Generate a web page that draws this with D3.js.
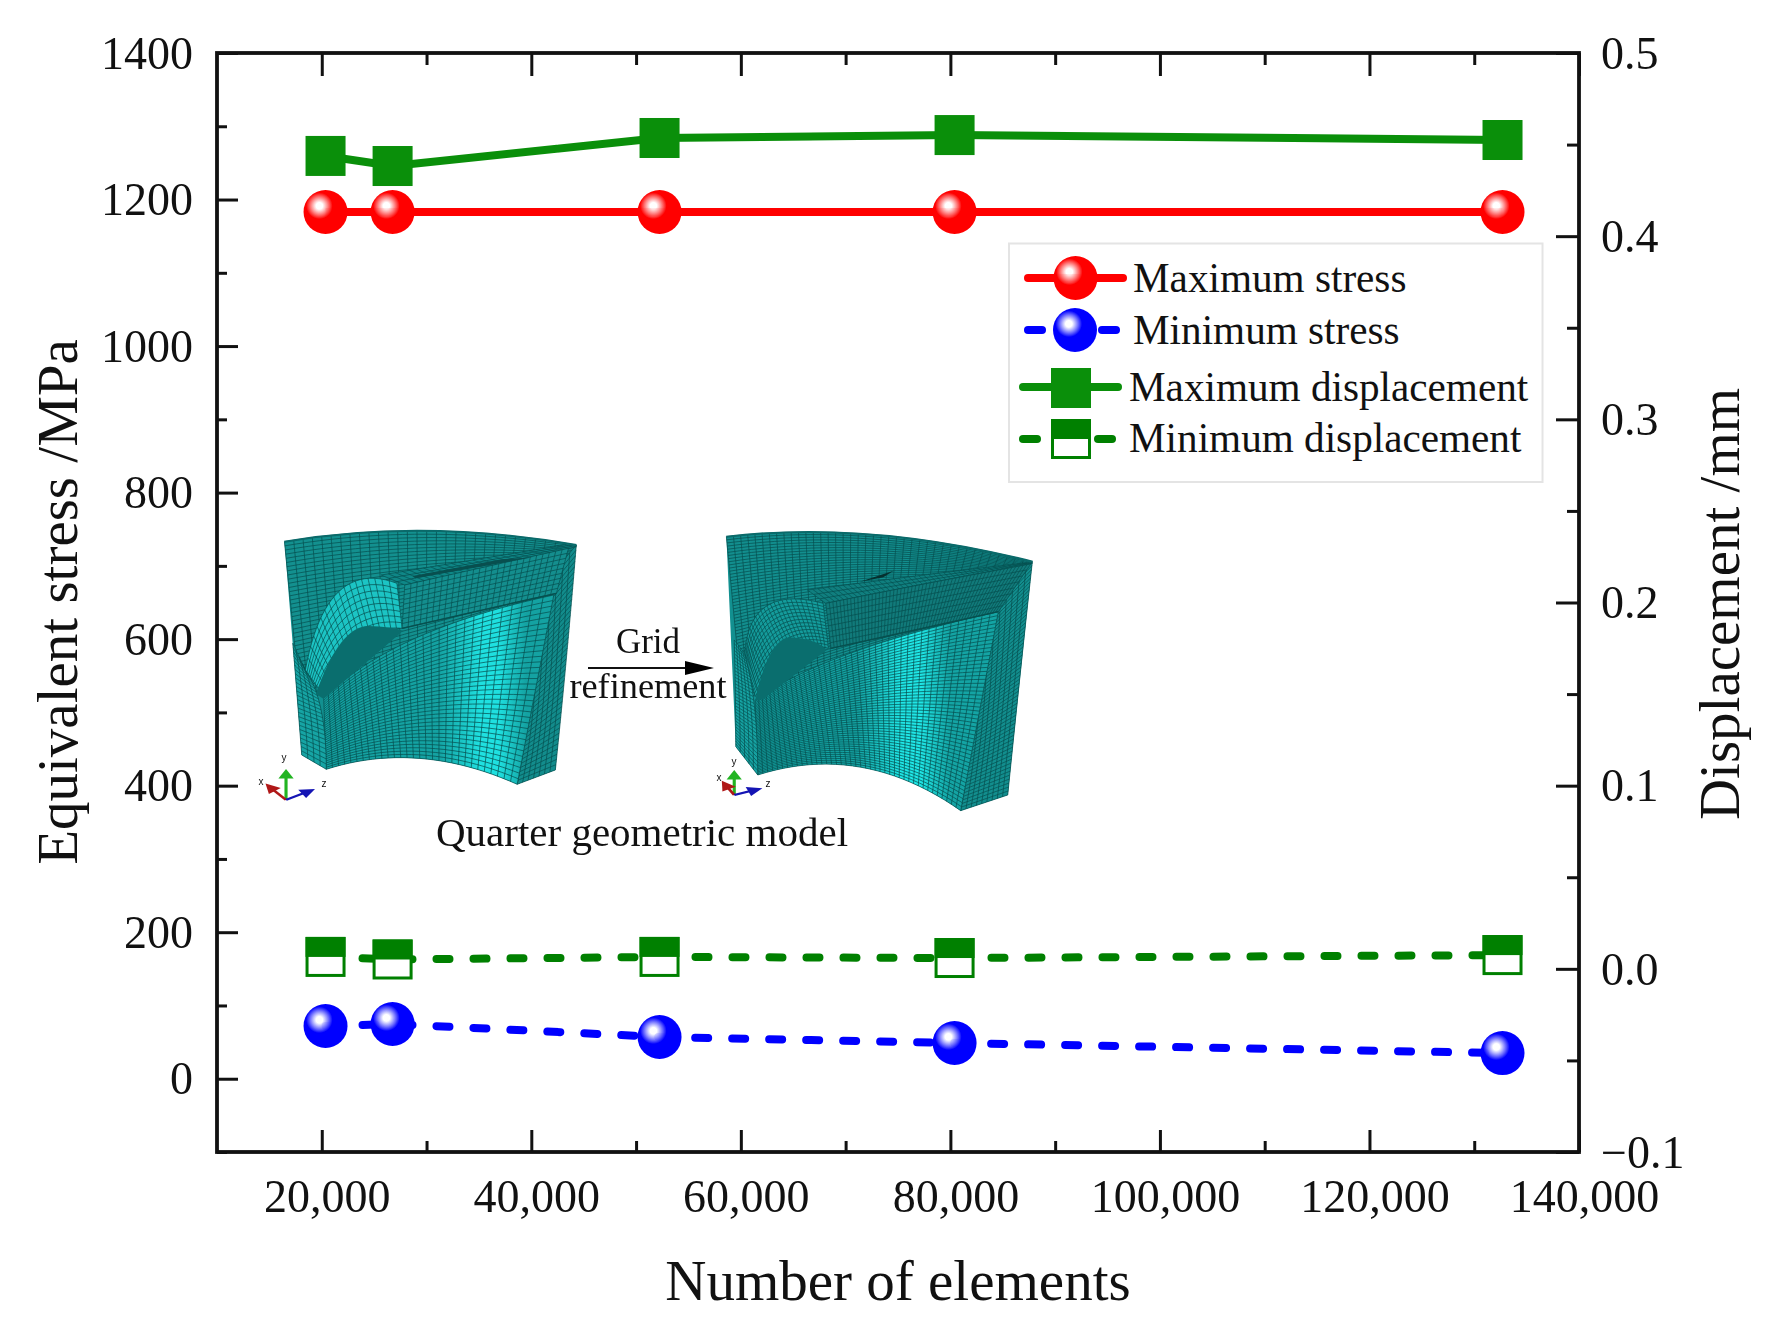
<!DOCTYPE html>
<html><head><meta charset="utf-8">
<script src="https://cdnjs.cloudflare.com/ajax/libs/d3/7.8.5/d3.min.js"></script>
<style>
html,body{margin:0;padding:0;background:#fff}
svg{display:block;filter:blur(0.6px)}
text{font-family:"Liberation Serif","Times New Roman",serif;fill:#111}
</style></head><body>
<svg id="c" width="1771" height="1331"></svg>
<script>
// ---- chart data ----
const elements = [20360, 26760, 52240, 80400, 132700];
const maxStress = [1183, 1183, 1183, 1183, 1183];
const minStress = [72, 74.7, 57, 48.8, 35];
const maxDisplacement = [0.4438, 0.4383, 0.4536, 0.4552, 0.4525];
const minDisplacement = [0.0065, 0.0051, 0.0065, 0.0059, 0.0075];
const xMajorTicks = [20000, 40000, 60000, 80000, 100000, 120000, 140000];
const xMinorTicks = [30000, 50000, 70000, 90000, 110000, 130000];
const leftMajorTicks = [0, 200, 400, 600, 800, 1000, 1200, 1400];
const leftMinorTicks = [-100, 100, 300, 500, 700, 900, 1100, 1300];
const rightMajorTicks = [-0.1, 0, 0.1, 0.2, 0.3, 0.4, 0.5];
const rightMinorTicks = [-0.05, 0.05, 0.15, 0.25, 0.35, 0.45];
const legendLabels = ["Maximum stress", "Minimum stress", "Maximum displacement", "Minimum displacement"];

// ---- layout ----
const L = 217, R = 1579, T = 53, B = 1152;
const svg = d3.select("#c");
const x = d3.scaleLinear().domain([10000, 140000]).range([L, R]);
const yL = d3.scaleLinear().domain([-100, 1400]).range([B, T]);
const yR = d3.scaleLinear().domain([-0.1, 0.5]).range([B, T]);
const RED = "#ff0000", BLUE = "#0000ff", GREEN = "#008000", GREEN2 = "#0a8f0a";
const DASH = "13 24", LW = 8, RAD = 22, SQ = 40;

// ---- gradients ----
const defs = svg.append("defs");
function sphere(id, col) {
  const g = defs.append("radialGradient").attr("id", id).attr("cx", .36).attr("cy", .36).attr("r", .3);
  g.append("stop").attr("offset", "0%").attr("stop-color", "#fff");
  g.append("stop").attr("offset", "25%").attr("stop-color", "#fff").attr("stop-opacity", .9);
  g.append("stop").attr("offset", "100%").attr("stop-color", col);
}
sphere("sRed", RED); sphere("sBlue", BLUE);
function band(id, a, b, at) {
  const g = defs.append("linearGradient").attr("id", id);
  [[0, a], [at - .18, a], [at, b], [at + .08, b], [at + .2, a], [1, a]].forEach(s =>
    g.append("stop").attr("offset", s[0]).attr("stop-color", s[1]));
}
band("bandL", "#14a2a2", "#1fe0e0", .68);
band("bandR", "#14a4a4", "#1fe6e6", .6);

// ---- inset: the two meshed quarter models (illustration, not data) ----
const quad = (q, t) => [0, 1].map(i => (1 - t) * (1 - t) * q[0][i] + 2 * t * (1 - t) * q[1][i] + t * t * q[2][i]);
const lineGen = d3.line();
function loft(g, A, B, nu, nv, fill, meshCol) {
  const P = (u, v) => { const a = quad(A, v), b = quad(B, v); return [(1 - u) * a[0] + u * b[0], (1 - u) * a[1] + u * b[1]]; };
  const S = d3.range(0, 1.0001, 1 / 24);
  const outline = S.map(v => P(0, v)).concat(S.slice().reverse().map(v => P(1, v)));
  g.append("path").attr("d", lineGen(outline) + "Z").attr("fill", fill);
  const mesh = g.append("g").attr("fill", "none").attr("stroke", meshCol || "#064f4f")
    .attr("stroke-opacity", .72).attr("stroke-width", 1);
  d3.range(0, nu + 1).forEach(i => mesh.append("path").attr("d", lineGen(S.map(v => P(i / nu, v)))).style("vector-effect", "non-scaling-stroke"));
  d3.range(0, nv + 1).forEach(j => mesh.append("path").attr("d", lineGen(S.map(u => P(u, j / nv)))).style("vector-effect", "non-scaling-stroke"));
}
function triad(g, o, up, rd, bl, lab) {
  [[up, "#22b422"], [rd, "#b01818"], [bl, "#1414b4"]].forEach(([p, c]) => {
    g.append("line").attr("x1", o[0]).attr("y1", o[1]).attr("x2", p[0]).attr("y2", p[1])
      .attr("stroke", c).attr("stroke-width", 6);
    const a = Math.atan2(p[1] - o[1], p[0] - o[0]), s = 18;
    const pt = (r, t) => [p[0] + r * Math.cos(a + t), p[1] + r * Math.sin(a + t)];
    g.append("path").attr("fill", c).attr("d", lineGen([pt(s, 0), pt(s, 2.2), pt(s, -2.2)]) + "Z");
  });
  lab.forEach(([t, p]) => svg.append("text").attr("x", p[0]).attr("y", p[1]).attr("font-size", 10)
    .attr("text-anchor", "middle").style("font-family", "Liberation Sans").text(t));
}
const m1 = svg.append("g").attr("transform", "translate(240,500) scale(0.523,0.3333)");
m1.append("path").attr("d", "M85,125Q350,55 643,135L603,810L530,853Q340,720 165,808L118,765Z").attr("fill", "#129090");
loft(m1, [[85,125],[350,55],[643,135]], [[115,600],[350,500],[610,300]], 38, 30, "#13908f");
loft(m1, [[555,300],[565,590],[530,853]], [[643,135],[625,480],[603,810]], 7, 42, "#128c8c");
loft(m1, [[160,595],[290,390],[600,285]], [[165,808],[340,720],[530,853]], 34, 30, "url(#bandL)");
loft(m1, [[101,430],[110,600],[118,765]], [[125,510],[165,600],[165,808]], 4, 26, "#16a4a4");
loft(m1, [[125,510],[165,170],[300,250]], [[150,565],[210,370],[310,385]], 8, 18, "#1cc4c4");
m1.append("path").attr("d", "M145,582Q190,380 245,378Q290,380 312,392L160,597Z").attr("fill", "#0a6e6e");
loft(m1, [[270,225],[445,180],[620,135]], [[315,255],[480,200],[643,140]], 3, 26, "#0f8787");
loft(m1, [[315,255],[470,200],[628,145]], [[310,385],[460,330],[605,280]], 9, 26, "#148e8e");
m1.append("path").attr("d", "M335,235L560,172L500,178L330,228Z").attr("fill", "#084f4f");
m1.append("path").attr("d", "M85,125Q350,55 643,135").attr("fill", "none").attr("stroke", "#0a6a6a").attr("stroke-width", 6);
m1.append("path").attr("d", "M310,385L605,280").attr("fill", "none").attr("stroke", "#07504f").attr("stroke-width", 4);
triad(m1, [88,900], [88,825], [60,865], [128,876], [["y",[284,761]],["x",[261,785]],["z",[324,787]]]);

const m2 = svg.append("g").attr("transform", "translate(240,500) scale(0.523,0.3333)");
m2.append("path").attr("d", "M930,110Q1200,60 1515,185L1468,885L1378,932Q1190,725 990,825L948,740Z").attr("fill", "#129090");
loft(m2, [[930,110],[1200,60],[1515,185]], [[960,600],[1200,450],[1450,340]], 52, 40, "#128e8e");
loft(m2, [[1405,365],[1415,620],[1378,932]], [[1515,185],[1490,540],[1468,885]], 9, 58, "#128e8e");
loft(m2, [[985,600],[1120,450],[1450,335]], [[990,825],[1190,725],[1378,932]], 50, 42, "url(#bandR)");
loft(m2, [[945,420],[948,600],[948,740]], [[965,460],[990,600],[990,825]], 5, 34, "#16a2a2");
loft(m2, [[965,460],[975,250],[1115,310]], [[985,590],[1050,410],[1125,445]], 14, 24, "#149c9c");
m2.append("path").attr("d", "M985,602Q1010,420 1050,412Q1100,415 1122,450L1000,598Z").attr("fill", "#0a6e6e");
loft(m2, [[1085,270],[1300,225],[1505,188]], [[1120,310],[1310,250],[1515,190]], 3, 44, "#107f7f");
loft(m2, [[1120,310],[1310,250],[1512,192]], [[1130,445],[1300,390],[1450,335]], 8, 56, "#117a7a");
m2.append("path").attr("d", "M1185,245L1250,212L1230,232Z").attr("fill", "#06302f");
m2.append("path").attr("d", "M930,110Q1200,60 1515,185").attr("fill", "none").attr("stroke", "#0a6a6a").attr("stroke-width", 6);
m2.append("path").attr("d", "M1130,445L1450,335").attr("fill", "none").attr("stroke", "#07504f").attr("stroke-width", 4);
triad(m2, [945,885], [945,828], [930,858], [982,871], [["y",[734,765]],["x",[719,781]],["z",[768,787]]]);

const tx = (t, X, Y, fs) => svg.append("text").attr("x", X).attr("y", Y).attr("font-size", fs).attr("text-anchor", "middle").text(t);
tx("Grid", 648, 653, 35);
tx("refinement", 648, 698, 36.3);
tx("Quarter geometric model", 642, 846, 41);
svg.append("line").attr("x1", 588).attr("x2", 690).attr("y1", 668).attr("y2", 668).attr("stroke", "#111").attr("stroke-width", 2);
svg.append("path").attr("d", "M685,661L714,668L685,675Z").attr("fill", "#000");

// ---- axes ----
function ax(fn, scale, vals, size, tr, fmt) {
  const a = fn(scale).tickValues(vals).tickSizeInner(size).tickSizeOuter(0).tickFormat(fmt || (() => ""));
  const g = svg.append("g").attr("transform", tr).call(a);
  g.selectAll(".tick line").attr("stroke", "#111").attr("stroke-width", 3);
  g.select(".domain").attr("stroke", "none");
  g.selectAll("text").style("font-family", '"Liberation Serif"').attr("font-size", 46).attr("fill", "#111");
  return g;
}
const commaF = d3.format(",");
const bx = ax(d3.axisBottom, x, xMajorTicks, -22, `translate(0,${B})`, commaF);
bx.selectAll("text").attr("y", 60).attr("dy", 0).attr("dx", 5);
ax(d3.axisBottom, x, xMinorTicks, -11, `translate(0,${B})`);
ax(d3.axisTop, x, xMajorTicks, -23, `translate(0,${T})`);
ax(d3.axisTop, x, xMinorTicks, -12, `translate(0,${T})`);
const lx = ax(d3.axisLeft, yL, leftMajorTicks, -21, `translate(${L},0)`, d3.format("d"));
lx.selectAll("text").attr("x", -24).attr("dy", "0.33em");
ax(d3.axisLeft, yL, leftMinorTicks, -10, `translate(${L},0)`);
const rx = ax(d3.axisRight, yR, rightMajorTicks, -23, `translate(${R},0)`, v => (Math.abs(v) < 1e-9 ? "0.0" : (v < 0 ? "\u2212" : "") + Math.abs(v).toFixed(1)));
rx.selectAll("text").attr("x", 22).attr("dy", "0.33em").attr("text-anchor", "start");
ax(d3.axisRight, yR, rightMinorTicks, -12, `translate(${R},0)`);
svg.append("rect").attr("x", L).attr("y", T).attr("width", R - L).attr("height", B - T)
  .attr("fill", "none").attr("stroke", "#111").attr("stroke-width", 3.8);

tx("Number of elements", 898, 1300, 57);
svg.append("text").attr("transform", "translate(77,602) rotate(-90)").attr("font-size", 57).attr("text-anchor", "middle").text("Equivalent stress /MPa");
svg.append("text").attr("transform", "translate(1739,604) rotate(-90)").attr("font-size", 57).attr("text-anchor", "middle").text("Displacement /mm");

// ---- series ----
function series(vals, yS, color, dashed) {
  const l = d3.line().x((d, i) => x(elements[i])).y(d => yS(d));
  svg.append("path").datum(vals).attr("d", l).attr("fill", "none").attr("stroke", color)
    .attr("stroke-width", LW).attr("stroke-linecap", dashed ? "round" : "butt")
    .attr("stroke-dasharray", dashed ? DASH : null);
}
series(maxStress, yL, RED, false);
series(minStress, yL, BLUE, true);
series(maxDisplacement, yR, GREEN2, false);
series(minDisplacement, yR, GREEN, true);

function ball(cx, cy, fill) {
  svg.append("circle").attr("cx", cx).attr("cy", cy).attr("r", RAD).attr("fill", fill);
}
function solidSquare(cx, cy) {
  svg.append("rect").attr("x", cx - SQ / 2).attr("y", cy - SQ / 2).attr("width", SQ).attr("height", SQ).attr("fill", GREEN2);
}
function halfSquare(cx, cy) {
  svg.append("rect").attr("x", cx - SQ / 2 + 1.5).attr("y", cy - SQ / 2 + 1.5).attr("width", SQ - 3).attr("height", SQ - 3)
    .attr("fill", "#fff").attr("stroke", GREEN).attr("stroke-width", 3);
  svg.append("rect").attr("x", cx - SQ / 2).attr("y", cy - SQ / 2).attr("width", SQ).attr("height", SQ / 2).attr("fill", GREEN);
}
elements.forEach((e, i) => {
  ball(x(e), yL(maxStress[i]), "url(#sRed)");
  ball(x(e), yL(minStress[i]), "url(#sBlue)");
  solidSquare(x(e), yR(maxDisplacement[i]));
  halfSquare(x(e), yR(minDisplacement[i]));
});

// ---- legend ----
svg.append("rect").attr("x", 1009).attr("y", 243.5).attr("width", 533.5).attr("height", 238.5)
  .attr("fill", "#fff").attr("stroke", "#e4e4e4").attr("stroke-width", 2);
const legSeg = (a, b, y, c) => svg.append("line").attr("x1", a).attr("x2", b).attr("y1", y).attr("y2", y)
  .attr("stroke", c).attr("stroke-width", LW).attr("stroke-linecap", "round");
legSeg(1028, 1123, 278, RED); ball(1075.5, 278, "url(#sRed)");
legSeg(1028, 1042, 330, BLUE); legSeg(1102, 1116, 330, BLUE); ball(1075, 330, "url(#sBlue)");
legSeg(1023, 1118, 387, GREEN2); solidSquare(1071, 388);
legSeg(1023, 1037, 439, GREEN); legSeg(1098, 1112, 439, GREEN); halfSquare(1071, 439);
const lg = (t, X, Y) => svg.append("text").attr("x", X).attr("y", Y).attr("font-size", 41.2).text(t);
lg(legendLabels[0], 1133, 292);
lg(legendLabels[1], 1133, 344);
lg(legendLabels[2], 1129, 401);
lg(legendLabels[3], 1129, 452);
</script></body></html>
